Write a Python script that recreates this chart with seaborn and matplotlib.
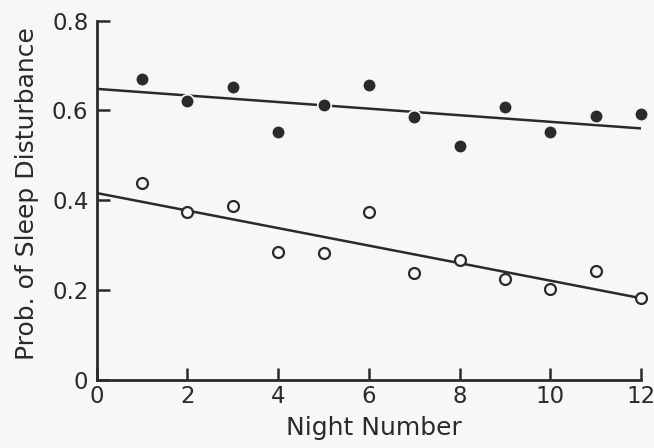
import seaborn as sns
import matplotlib.pyplot as plt
import pandas as pd

# values
nights = [1, 2, 3, 4, 5, 6, 7, 8, 9, 10, 11, 12]
filled_prob = [0.669, 0.620, 0.653, 0.551, 0.611, 0.656, 0.585, 0.520, 0.607, 0.551, 0.587, 0.593]
open_prob = [0.438, 0.373, 0.387, 0.284, 0.282, 0.373, 0.238, 0.267, 0.225, 0.202, 0.242, 0.182]

# drawn trend lines (end points)
fit_x = [0, 12]
filled_fit = [0.648, 0.560]
open_fit = [0.416, 0.182]

x_ticks = [0, 2, 4, 6, 8, 10, 12]
y_ticks = [0, 0.2, 0.4, 0.6, 0.8]
y_tick_labels = ['0', '0.2', '0.4', '0.6', '0.8']

ink = '#2a2a2a'
paper = '#f7f7f5'

sns.set_style('ticks')
plt.rcParams['font.family'] = ['DejaVu Sans']

pts = pd.DataFrame({'night': nights, 'filled': filled_prob, 'open': open_prob})
fits = pd.DataFrame({'night': fit_x, 'filled': filled_fit, 'open': open_fit})

fig = plt.figure(figsize=(6.54, 4.48), dpi=100, facecolor=paper)
ax = fig.add_axes([0.148, 0.152, 0.832, 0.802])
ax.set_facecolor(paper)

sns.lineplot(data=fits, x='night', y='filled', color=ink, linewidth=1.8, ax=ax)
sns.lineplot(data=fits, x='night', y='open', color=ink, linewidth=1.8, ax=ax)
sns.scatterplot(data=pts, x='night', y='filled', color=ink, s=95,
                edgecolor=paper, linewidth=1.2, clip_on=False, zorder=3, ax=ax)
sns.scatterplot(data=pts, x='night', y='open', facecolor=paper, s=62,
                edgecolor=ink, linewidth=1.6, clip_on=False, zorder=3, ax=ax)

ax.set_xlim(0, 12)
ax.set_ylim(0, 0.8)
ax.set_xticks(x_ticks)
ax.set_yticks(y_ticks)
ax.set_yticklabels(y_tick_labels)
ax.tick_params(direction='in', length=9, width=1.8, color=ink, labelcolor=ink,
               labelsize=16.5)
ax.tick_params(axis='x', pad=4)
ax.tick_params(axis='y', pad=6)

sns.despine(ax=ax)
for side in ['left', 'bottom']:
    ax.spines[side].set_linewidth(2.0)
    ax.spines[side].set_color(ink)

ax.set_xlabel('Night Number', fontsize=18, color=ink)
ax.xaxis.set_label_coords(0.51, -0.1)
ax.set_ylabel('Prob. of Sleep Disturbance', fontsize=18, color=ink)
ax.yaxis.set_label_coords(-0.107, 0.52)

fig.savefig('out.png', dpi=100, facecolor=paper)
